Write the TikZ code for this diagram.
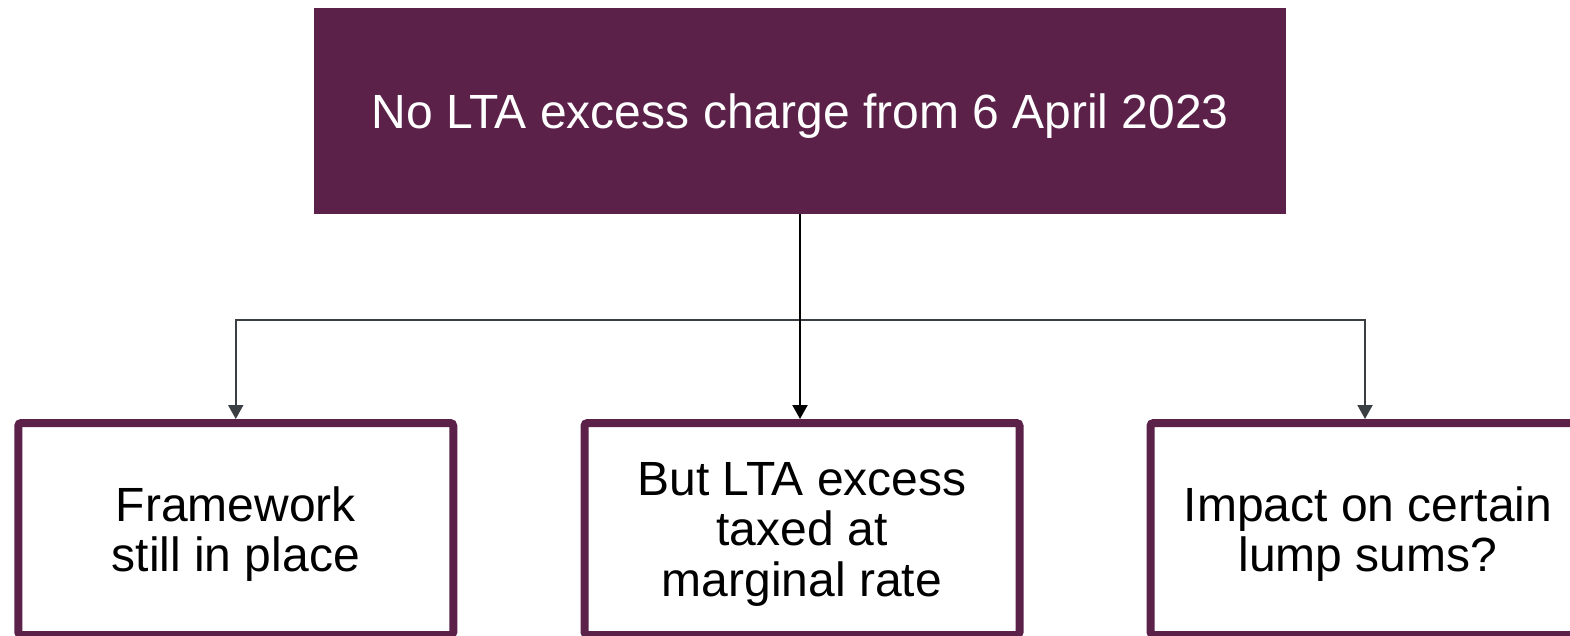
\documentclass[tikz,border=0pt]{standalone}
\usepackage{fontspec}
\setmainfont{Liberation Sans}
\usetikzlibrary{arrows.meta}
\definecolor{plum}{HTML}{5B2149}
\definecolor{connc}{HTML}{3A3F44}
\begin{document}
\begin{tikzpicture}[x=1pt,y=-1pt,
  txt/.style={font=\fontsize{48pt}{50.5pt}\selectfont, align=center, text depth=0pt},
  headbox/.style={txt, fill=plum, text=white, minimum width=972pt, minimum height=206pt, inner sep=0pt},
  leafbox/.style={txt, draw=plum, line width=8pt, rounded corners=3pt, fill=white, text=black, minimum width=435pt, minimum height=212pt, inner sep=0pt},
  conn/.style={draw=connc, line width=2pt, -{Triangle[width=15pt,length=14pt]}},
  connb/.style={draw=black, line width=2pt, -{Triangle[width=15pt,length=14pt]}}]
\useasboundingbox (0,0) rectangle (1570,636);
\node[headbox] (top) at (800,111) {No LTA excess charge from 6 April 2023};
\node[leafbox] (left) at (235.75,529) {Framework\\still in place};
\node[leafbox] (mid) at (802,529) {But LTA excess\\taxed at\\marginal rate};
\node[leafbox] (right) at (1368,529) {Impact on certain\\lump sums?};
\coordinate (j) at (800,320);
\draw[conn] (top.south) -- (j) -| (left.north);
\draw[conn] (top.south) -- (j) -| ([xshift=-3pt]right.north);
\draw[connb] (top.south) -- (top.south |- mid.north);
\end{tikzpicture}
\end{document}
